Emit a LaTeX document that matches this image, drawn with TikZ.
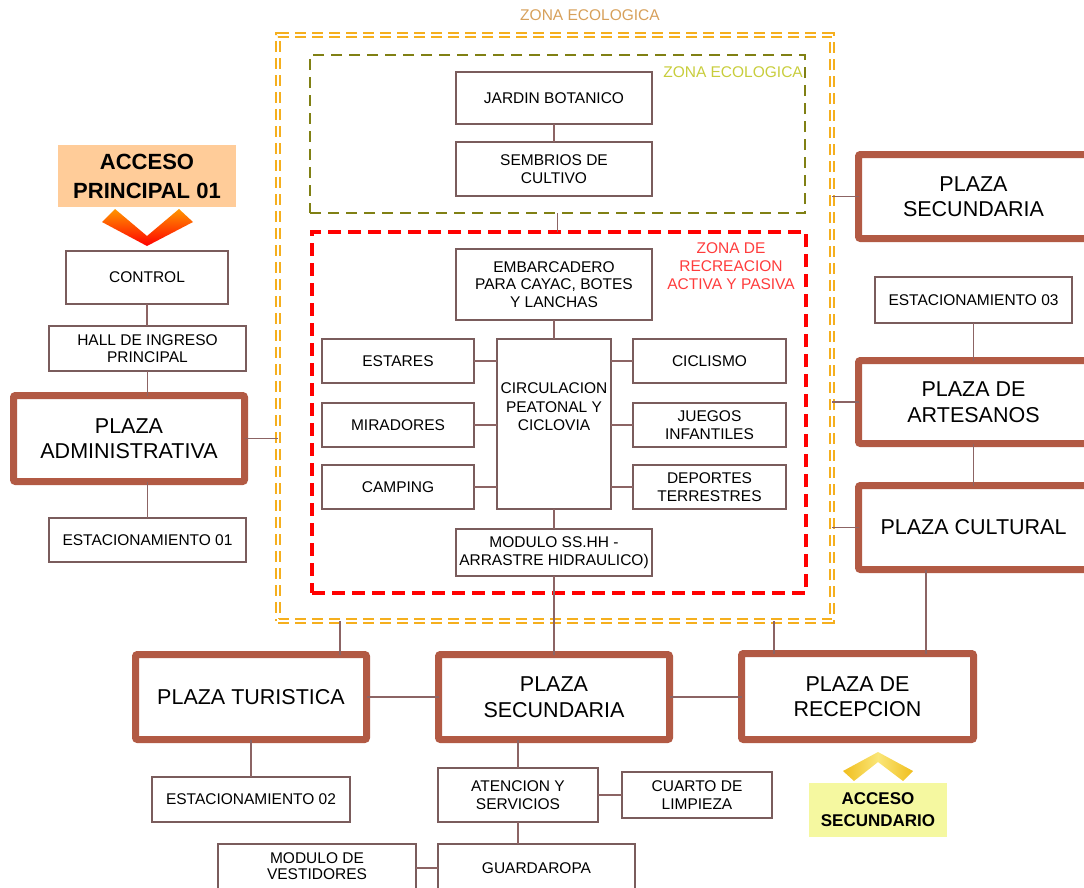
\documentclass[tikz,border=0pt]{standalone}
\usepackage{fontspec}
\setmainfont{Liberation Sans}
\definecolor{boxline}{RGB}{122,92,92}
\definecolor{conn}{RGB}{140,100,100}
\definecolor{plaza}{RGB}{178,90,68}
\definecolor{zoneorange}{RGB}{245,175,30}
\definecolor{zoneolive}{RGB}{128,128,20}
\definecolor{zonered}{RGB}{255,0,0}
\definecolor{lblorange}{RGB}{215,160,90}
\definecolor{lblolive}{RGB}{200,205,60}
\definecolor{lblred}{RGB}{255,60,60}
\definecolor{accorange}{RGB}{255,204,153}
\definecolor{accyellow}{RGB}{245,248,160}
\definecolor{chevora}{RGB}{255,150,0}
\definecolor{chevred}{RGB}{255,0,0}
\definecolor{chevgold}{RGB}{240,190,30}
\definecolor{chevlight}{RGB}{250,230,120}
\begin{document}
\begin{tikzpicture}[x=1pt,y=-1pt,
  sbox/.style={draw=boxline, line width=1.2pt, fill=white, inner sep=0pt, outer sep=0pt, align=center, font=\fontsize{15.5}{17.5}\selectfont},
  pbox/.style={draw=plaza, line width=7pt, fill=white, rounded corners=2pt, inner sep=0pt, outer sep=0pt, align=center, font=\fontsize{21.5}{25.5}\selectfont},
  link/.style={draw=conn, line width=1.2pt},
  zoneo/.style={draw=zoneorange, double=white, double distance=1.5pt, line width=1.8pt, dash pattern=on 11pt off 6pt, inner sep=0pt, outer sep=0pt},
  zoneg/.style={draw=zoneolive, line width=2pt, dash pattern=on 11pt off 7pt, inner sep=0pt, outer sep=0pt},
  zoner/.style={draw=zonered, line width=4.5pt, dash pattern=on 13pt off 7pt, inner sep=0pt, outer sep=0pt},
  zlabel/.style={inner sep=0pt, align=center, font=\fontsize{15.5}{18}\selectfont},
  accbox/.style={inner sep=0pt, align=center, font=\bfseries\fontsize{22}{29}\selectfont}
]
\useasboundingbox (0,0) rectangle (1084,887);

% zones
\node[zoneo, minimum width=554pt, minimum height=586pt] (zo) at (555,328) {};
\node[zoneg, minimum width=495pt, minimum height=158pt] (zg) at (557.5,134) {};
\node[zoner, minimum width=494pt, minimum height=361pt] (zr) at (559,412.5) {};

\node[zlabel, text=lblorange] (zl1) at (590,15) {ZONA ECOLOGICA};
\node[zlabel, text=lblolive, anchor=east] (zl2) at (803,72) {ZONA ECOLOGICA};
\node[zlabel, text=lblred] (zl3) at (731,266) {ZONA DE\\RECREACION\\ACTIVA Y PASIVA};

% inner boxes
\node[sbox, minimum width=196pt, minimum height=52pt] (jardin) at (554,98) {JARDIN BOTANICO};
\node[sbox, minimum width=196pt, minimum height=54pt] (sembrios) at (554,169) {SEMBRIOS DE\\CULTIVO};
\node[sbox, minimum width=196pt, minimum height=71pt] (embarc) at (554,284.5) {EMBARCADERO\\PARA CAYAC, BOTES\\Y LANCHAS};
\node[sbox, minimum width=152pt, minimum height=44pt] (estares) at (398,361) {ESTARES};
\node[sbox, minimum width=152pt, minimum height=44pt] (mirad) at (398,425) {\raisebox{-7pt}{MIRADORES}};
\node[sbox, minimum width=152pt, minimum height=44pt] (camping) at (398,487) {CAMPING};
\node[sbox, minimum width=114pt, minimum height=170pt] (circ) at (554,424) {};
\node[inner sep=0pt, align=center, font=\fontsize{15.5}{18.5}\selectfont] (circtxt) at (554,407) {CIRCULACION\\PEATONAL Y\\CICLOVIA};
\node[sbox, minimum width=153pt, minimum height=44pt] (ciclismo) at (709.5,361) {CICLISMO};
\node[sbox, minimum width=153pt, minimum height=44pt] (juegos) at (709.5,425) {JUEGOS\\INFANTILES};
\node[sbox, minimum width=153pt, minimum height=44pt] (deportes) at (709.5,487) {DEPORTES\\TERRESTRES};
\node[sbox, minimum width=196pt, minimum height=47pt] (modulo) at (554,552.5) {MODULO SS.HH -\\ARRASTRE HIDRAULICO)};

% left column
\node[accbox, fill=accorange, minimum width=178pt, minimum height=62pt] (accp) at (147,176) {ACCESO\\PRINCIPAL 01};
\shade[top color=chevora, bottom color=chevred] (102,222) -- (115,209) -- (147,236) -- (179,209) -- (193,222) -- (147,246) -- cycle;
\node[sbox, minimum width=162pt, minimum height=53pt] (control) at (147,277.5) {CONTROL};
\node[sbox, minimum width=197pt, minimum height=45pt] (hall) at (147.5,348.5) {HALL DE INGRESO\\PRINCIPAL};
\node[pbox, minimum width=231pt, minimum height=86pt] (padmin) at (129,438.5) {PLAZA\\ADMINISTRATIVA};
\node[sbox, minimum width=197pt, minimum height=44pt] (est01) at (147.5,540) {ESTACIONAMIENTO 01};

% right column
\node[pbox, minimum width=230pt, minimum height=84pt] (psec1) at (973.5,196.5) {PLAZA\\SECUNDARIA};
\node[sbox, minimum width=197pt, minimum height=46pt] (est03) at (973.5,300) {ESTACIONAMIENTO 03};
\node[pbox, minimum width=230pt, minimum height=83pt] (partes) at (973.5,402) {PLAZA DE\\ARTESANOS};
\node[pbox, minimum width=230pt, minimum height=84pt] (pcult) at (973.5,527.5) {PLAZA CULTURAL};

% bottom row
\node[pbox, minimum width=231pt, minimum height=85pt] (ptur) at (251,697) {PLAZA TURISTICA};
\node[pbox, minimum width=231pt, minimum height=85pt] (psec2) at (554,697) {PLAZA\\SECUNDARIA};
\node[pbox, minimum width=232pt, minimum height=86pt] (precep) at (857.5,696.5) {PLAZA DE\\RECEPCION};
\node[sbox, minimum width=198pt, minimum height=45pt] (est02) at (251,799.5) {ESTACIONAMIENTO 02};
\node[sbox, minimum width=160pt, minimum height=54pt] (atenc) at (518,795) {ATENCION Y\\SERVICIOS};
\node[sbox, minimum width=150pt, minimum height=46pt] (cuarto) at (697,795) {CUARTO DE\\LIMPIEZA};
\node[sbox, minimum width=197pt, minimum height=48pt] (guarda) at (536.5,868) {GUARDAROPA};
\node[sbox, minimum width=198pt, minimum height=48pt] (vestid) at (317,868) {\raisebox{3pt}{\begin{tabular}{@{}c@{}}MODULO DE\\[-1.5pt]VESTIDORES\end{tabular}}};

% acceso secundario
\shade[left color=chevgold, right color=chevgold, middle color=chevlight] (843,771) -- (878,752) -- (913,771) -- (903,781) -- (878,762) -- (854,781) -- cycle;
\node[accbox, fill=accyellow, minimum width=138pt, minimum height=54pt, font=\bfseries\fontsize{17}{22}\selectfont] (accs) at (878,810) {ACCESO\\SECUNDARIO};

% free-end coordinates on zone borders
\coordinate (tL) at (340,621);
\coordinate (tR) at (774,621);
\coordinate (cR) at (926,0);

% connectors
\draw[link] (jardin.south) -- (sembrios.north);
\draw[link] (zg.south) -- (zg.south |- zr.north);
\draw[link] (embarc.south) -- (circ.north);
\draw[link] (estares.east) -- (estares.east -| circ.west);
\draw[link] (mirad.east) -- (mirad.east -| circ.west);
\draw[link] (camping.east) -- (camping.east -| circ.west);
\draw[link] (ciclismo.west) -- (ciclismo.west -| circ.east);
\draw[link] (juegos.west) -- (juegos.west -| circ.east);
\draw[link] (deportes.west) -- (deportes.west -| circ.east);
\draw[link] (circ.south) -- (modulo.north);
\draw[link] (modulo.south) -- (modulo.south |- psec2.north);
\draw[link] (control.south) -- (control.south |- hall.north);
\draw[link] (hall.south) -- (hall.south |- padmin.north);
\draw[link] (est01.north |- padmin.south) -- (est01.north);
\draw[link] (padmin.east) -- (padmin.east -| zo.west);
\draw[link] (psec1.west) -- (psec1.west -| zo.east);
\draw[link] (est03.south) -- (partes.north);
\draw[link] (partes.west) -- (partes.west -| zo.east);
\draw[link] (partes.south) -- (pcult.north);
\draw[link] (pcult.west) -- (pcult.west -| zo.east);
\draw[link] (cR |- pcult.south) -- (cR |- precep.north);
\draw[link] (tR) -- (tR |- precep.north);
\draw[link] (tL) -- (tL |- ptur.north);
\draw[link] (ptur.east) -- (ptur.east -| psec2.west);
\draw[link] (psec2.east) -- (psec2.east -| precep.west);
\draw[link] (ptur.south) -- (est02.north);
\draw[link] (atenc.north |- psec2.south) -- (atenc.north);
\draw[link] (atenc.east) -- (atenc.east -| cuarto.west);
\draw[link] (atenc.south) -- (atenc.south |- guarda.north);
\draw[link] (vestid.east) -- (vestid.east -| guarda.west);
\end{tikzpicture}
\end{document}
